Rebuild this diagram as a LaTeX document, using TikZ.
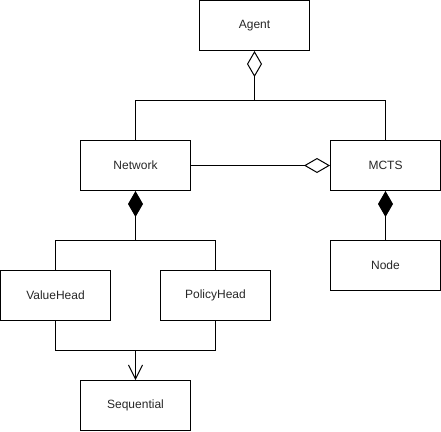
\documentclass[tikz,border=0pt]{standalone}
\usepackage{fontspec}
\setmainfont{Liberation Sans}
\usetikzlibrary{arrows.meta}
\begin{document}
\begin{tikzpicture}[x=1pt,y=-1pt,
  cls/.style={draw=black, line width=1pt, minimum width=110pt, minimum height=50pt, inner sep=0pt, font=\fontsize{12}{14}\selectfont, text=black!85},
  conn/.style={draw=black, line width=1pt},
  aggr/.style={conn, {Diamond[open, length=26pt, width=15pt, line width=1pt]}-},
  comp/.style={conn, {Diamond[length=26pt, width=15pt]}-},
  dep/.style={conn, -{Straight Barb[length=14pt, width=14pt, line width=1pt]}}
]
\useasboundingbox (0,0) rectangle (441,431);
\node[cls] (agent) at (254.5,25.5) {Agent};
\node[cls] (network) at (135.5,165.5) {Network};
\node[cls] (mcts) at (385.5,165.5) {MCTS};
\node[cls] (value) at (55.5,295.5) {ValueHead};
\node[cls] (policy) at (215.5,295.5) {PolicyHead};
\node[cls] (seq) at (135.5,405.5) {Sequential};
\node[cls] (nd) at (385.5,265.5) {Node};
\coordinate (j1) at (254.5,100.5);
\coordinate (j2) at (135.5,240.5);
\coordinate (j3) at (135.5,350.5);
% Agent aggregation
\draw[aggr] (agent.south) -- (j1);
\draw[conn] (network.north) |- (j1) -| (mcts.north);
% Network -> MCTS aggregation
\draw[aggr] (mcts.west) -- (network.east);
% Network composition
\draw[comp] (network.south) -- (j2);
\draw[conn] (value.north) |- (j2) -| (policy.north);
% MCTS composition
\draw[comp] (mcts.south) -- (nd.north);
% heads -> Sequential
\draw[conn] (value.south) |- (j3) -| (policy.south);
\draw[dep] (j3) -- (seq.north);
\end{tikzpicture}
\end{document}
